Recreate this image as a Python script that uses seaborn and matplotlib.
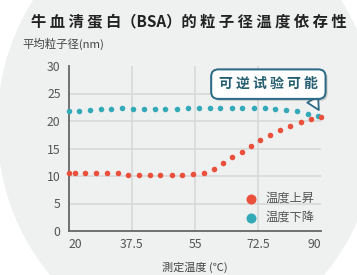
import numpy as np
import pandas as pd
import matplotlib
matplotlib.use("Agg")
import matplotlib.pyplot as plt
import matplotlib.patheffects as pe
from matplotlib.patches import Ellipse
import seaborn as sns

# données
temp_up = [20, 21.6, 24.6, 27.6, 30.6, 33.5, 36.4, 39.4, 42.5, 45.4, 48.5, 51.5, 54.4,
           57.4, 60.3, 62.8, 65.4, 68, 70.6, 73.2, 75.8, 78.6, 81.4, 84.4, 87.1, 90]
size_up = [10.5, 10.5, 10.6, 10.55, 10.5, 10.55, 10.2, 10.1, 10.2, 10.2, 10.2, 10.2, 10.4,
           10.6, 11.2, 12.3, 13.4, 14.4, 15.5, 16.6, 17.5, 18.4, 19.1, 19.9, 20.4, 20.7]
temp_down = [20, 22.9, 25.8, 28.8, 31.7, 34.8, 37.9, 40.8, 43.9, 46.8, 49.9, 53, 56.1,
             59.2, 62.1, 65.2, 68.2, 71.4, 74.4, 77.3, 80.4, 83.3, 86.3, 89.3]
size_down = [21.9, 21.8, 22.0, 22.1, 22.2, 22.4, 22.2, 22.1, 22.2, 22.2, 22.2, 22.3, 22.4,
             22.4, 22.4, 22.4, 22.4, 22.4, 22.3, 22.2, 22.0, 21.8, 21.3, 20.9]
x_ticks = [20, 37.5, 55, 72.5, 90]
x_tick_labels = ["20", "37.5", "55", "72.5", "90"]
y_ticks = [0, 5, 10, 15, 20, 25, 30]
series_names = ["温度上昇", "温度下降"]
colors = ["#ea503b", "#34a9b8"]

sns.set_style("white")
plt.rcParams["font.family"] = ["Noto Sans CJK JP", "DejaVu Sans"]

df_up = pd.DataFrame({"temp": temp_up, "size": size_up})
df_down = pd.DataFrame({"temp": temp_down, "size": size_down})

fig = plt.figure(figsize=(3.57, 2.75), dpi=100, facecolor="white")
# fond gris elliptique
fig.add_artist(Ellipse((0.524, 0.542), 1.064, 1.564, transform=fig.transFigure,
                       facecolor="#eff0f0", edgecolor="none", zorder=-10))

ax = fig.add_axes([0.193, 0.16, 0.706, 0.60])
ax.set_facecolor("none")

sns.scatterplot(data=df_down, x="temp", y="size", color=colors[1], s=16, linewidth=0,
                label=series_names[1], ax=ax, clip_on=False, zorder=3)
sns.scatterplot(data=df_up, x="temp", y="size", color=colors[0], s=16, linewidth=0,
                label=series_names[0], ax=ax, clip_on=False, zorder=4)

ax.set_xlim(20, 90)
ax.set_ylim(0, 30)
ax.set_xticks(x_ticks)
ax.set_xticklabels(x_tick_labels)
ax.set_yticks(y_ticks)
ax.set_xlabel("")
ax.set_ylabel("")
ax.tick_params(length=0, labelsize=8.8, labelcolor="#555555")
ax.tick_params(axis="y", pad=6)
ax.tick_params(axis="x", pad=5)
tl = ax.get_xticklabels()
tl[0].set_ha("left")
tl[-1].set_ha("right")

# grille
for v in [37.5, 55, 72.5]:
    ax.axvline(v, color="#d8d9d9", lw=1.2, zorder=1)
for v in [5, 10, 15, 20, 25]:
    ax.axhline(v, color="#d8d9d9", lw=1.2, zorder=1)

for s in ["top", "right"]:
    ax.spines[s].set_visible(False)
for s in ["left", "bottom"]:
    ax.spines[s].set_color("#666666")
    ax.spines[s].set_linewidth(1.3)

# légende
h, l = ax.get_legend_handles_labels()
leg = ax.legend(h[::-1], l[::-1], loc="lower right", bbox_to_anchor=(1.01, -0.01),
                frameon=False, fontsize=8.8, markerscale=1.8, handletextpad=0.2,
                labelspacing=0.5, borderaxespad=0.3)
for t in leg.get_texts():
    t.set_color("#555555")

# bulle
ann = ax.annotate("可 逆 试 验 可 能", xy=(89.4, 22.0), xytext=(75.4, 26.7),
                  textcoords="data", ha="center", va="center", fontsize=10,
                  fontweight="bold", color="#245e70", zorder=6,
                  bbox=dict(boxstyle="round,pad=0.55,rounding_size=0.5",
                            fc="white", ec="#2b6b87", lw=1.3),
                  arrowprops=dict(arrowstyle="wedge,tail_width=0.9,shrink_factor=0.5",
                                  fc="white", ec="#2b6b87", lw=1.3,
                                  relpos=(0.9, 0.0), shrinkA=0, shrinkB=0))
ann.get_bbox_patch().set_path_effects([pe.withSimplePatchShadow(offset=(1.5, -1.5),
                                                                 alpha=0.25), pe.Normal()])

fig.text(0.528, 0.922, "牛 血 清 蛋 白（BSA）的 粒 子 径 温 度 依 存 性", ha="center",
         va="center", fontsize=11, fontweight="bold", color="#222222")
fig.text(0.064, 0.84, "平均粒子径(nm)", ha="left", va="center", fontsize=8.2,
         color="#444444")
fig.text(0.546, 0.029, "測定温度 (℃)", ha="center", va="center", fontsize=8,
         color="#444444")

fig.savefig("out.png", dpi=100, facecolor="white")
